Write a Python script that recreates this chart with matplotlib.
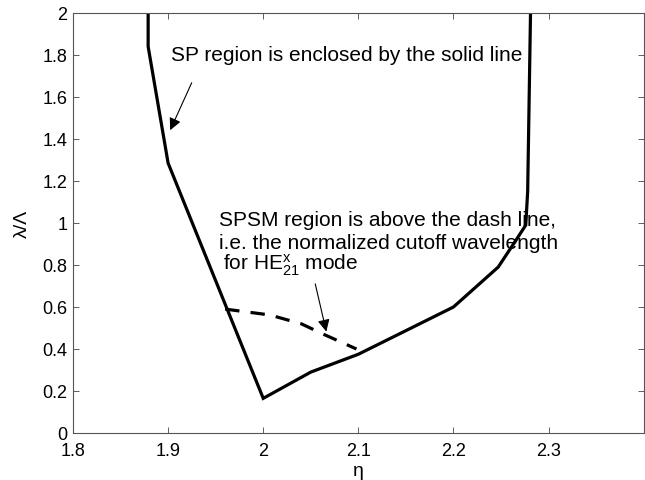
import matplotlib
matplotlib.use("Agg")
import matplotlib.pyplot as plt
from matplotlib.ticker import FuncFormatter

plt.rcParams['font.family'] = ['Liberation Sans', 'DejaVu Sans']
plt.rcParams['mathtext.fontset'] = 'custom'
plt.rcParams['mathtext.rm'] = 'Liberation Sans'
plt.rcParams['mathtext.it'] = 'Liberation Sans'

# solid boundary of SP region
sp_eta = [1.879, 1.879, 1.90, 2.00, 2.05, 2.10, 2.20, 2.247, 2.266, 2.276, 2.278, 2.281]
sp_lam = [2.00, 1.84, 1.285, 0.165, 0.29, 0.375, 0.60, 0.79, 0.92, 0.99, 1.15, 2.00]

# dashed HE21 cutoff
he_eta = [1.960, 2.007, 2.040, 2.063, 2.098]
he_lam = [0.590, 0.562, 0.520, 0.471, 0.400]

xticks = [1.8, 1.9, 2.0, 2.1, 2.2, 2.3]
yticks = [0, 0.2, 0.4, 0.6, 0.8, 1.0, 1.2, 1.4, 1.6, 1.8, 2.0]

fig = plt.figure(figsize=(6.45, 4.81), dpi=100)
ax = fig.add_axes([73/645, 47/481, 1 - 73/645 - 0.002, 420/481])

ax.plot(sp_eta, sp_lam, color='black', lw=2.3, solid_joinstyle='miter')
ax.plot(he_eta, he_lam, color='black', lw=2.3, dashes=(4.5, 3.5))

ax.set_xlim(1.8, 2.4)
ax.set_ylim(0, 2)
ax.set_xticks(xticks)
ax.set_yticks(yticks)
fmt = FuncFormatter(lambda v, p: '%g' % v)
ax.xaxis.set_major_formatter(fmt)
ax.yaxis.set_major_formatter(fmt)
ax.tick_params(direction='in', top=True, right=True, length=4, width=0.6,
               labelsize=13, color='#444444')
ax.tick_params(axis='x', pad=6.5)
ax.tick_params(axis='y', pad=4)
for s in ax.spines.values():
    s.set_color('#555555')
    s.set_linewidth(0.8)

ax.set_xlabel('η', fontsize=14, labelpad=2)
ax.set_ylabel('λ/Λ', fontsize=14, labelpad=8)

fs = 15
ax.text(1.903, 1.80, 'SP region is enclosed by the solid line', fontsize=fs,
        va='center', ha='left')
ax.annotate('', xy=(1.901, 1.43), xytext=(1.926, 1.68),
            arrowprops=dict(arrowstyle='-|>', color='black', lw=0.8,
                            mutation_scale=18))

ax.text(1.953, 1.015, 'SPSM region is above the dash line,', fontsize=fs,
        va='center', ha='left')
ax.text(1.953, 0.905, 'i.e. the normalized cutoff wavelength', fontsize=fs,
        va='center', ha='left')
ax.text(1.958, 0.805, 'for HE$^{\\mathrm{x}}_{21}$ mode', fontsize=fs,
        va='center', ha='left')
ax.annotate('', xy=(2.067, 0.47), xytext=(2.054, 0.723),
            arrowprops=dict(arrowstyle='-|>', color='black', lw=0.8,
                            mutation_scale=18))

fig.savefig('out.png', dpi=100)
